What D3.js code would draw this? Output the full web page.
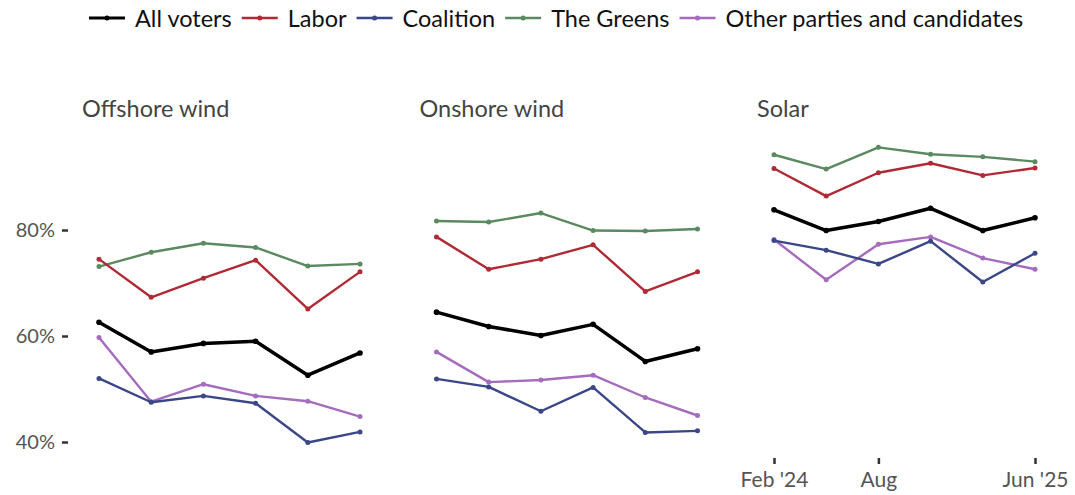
<!DOCTYPE html>
<html>
<head>
<meta charset="utf-8">
<script src="https://cdnjs.cloudflare.com/ajax/libs/d3/7.8.5/d3.min.js"></script>
<style>
  body { margin: 0; background: #fff; }
  svg { font-family: Lato, "Noto Sans", sans-serif; }
</style>
</head>
<body>
<svg id="chart" width="1075" height="495"></svg>
<script>
// survey waves
var waves = ["Feb '24", "May '24", "Aug '24", "Nov '24", "Mar '25", "Jun '25"];
var waveTicks = ["Feb '24", "Aug '24", "Jun '25"];
var tickText = { "Feb '24": "Feb '24", "Aug '24": "Aug", "Jun '25": "Jun '25" };

var panels = ["Offshore wind", "Onshore wind", "Solar"];
var groups = ["All voters", "Labor", "Coalition", "The Greens", "Other parties and candidates"];
var colors = ["#000000", "#b02a35", "#3b4688", "#5b8a60", "#a56cbd"];

// support (%) per group, per panel
var offshore = {
  "All voters": [62.6, 57.0, 58.6, 59.0, 52.6, 56.8],
  "Labor": [74.5, 67.3, 70.9, 74.3, 65.1, 72.1],
  "Coalition": [52.0, 47.5, 48.7, 47.3, 39.9, 41.9],
  "The Greens": [73.1, 75.8, 77.5, 76.7, 73.2, 73.6],
  "Other parties and candidates": [59.7, 47.6, 50.9, 48.7, 47.7, 44.8]
};
var onshore = {
  "All voters": [64.5, 61.8, 60.1, 62.2, 55.2, 57.6],
  "Labor": [78.7, 72.6, 74.5, 77.2, 68.4, 72.1],
  "Coalition": [51.9, 50.4, 45.8, 50.3, 41.8, 42.1],
  "The Greens": [81.7, 81.5, 83.2, 79.9, 79.8, 80.2],
  "Other parties and candidates": [57.0, 51.3, 51.7, 52.6, 48.4, 45.0]
};
var solar = {
  "All voters": [83.8, 79.9, 81.6, 84.1, 79.9, 82.3],
  "Labor": [91.6, 86.4, 90.8, 92.6, 90.3, 91.7],
  "Coalition": [78.0, 76.2, 73.6, 77.9, 70.2, 75.6],
  "The Greens": [94.2, 91.5, 95.6, 94.3, 93.8, 92.9],
  "Other parties and candidates": [78.2, 70.6, 77.3, 78.7, 74.7, 72.6]
};
var panelData = [offshore, onshore, solar];
var yTicks = [40, 60, 80];

var svg = d3.select("#chart");

var y = d3.scaleLinear().domain([40, 80]).range([442, 230]);
var x = d3.scalePoint().domain(waves).range([0, 261]);
var panelX = d3.scalePoint().domain(panels).range([99, 774]);

// y axis
var yAxis = svg.append("g").attr("transform", "translate(68,0)")
  .call(d3.axisLeft(y).tickValues(yTicks).tickSize(6).tickPadding(7).tickFormat(d => d + "%"));
yAxis.select(".domain").remove();
yAxis.selectAll(".tick line").attr("stroke", "#333").attr("stroke-width", 2.5);
yAxis.selectAll(".tick text").attr("fill", "#555").style("font-size", "20px").style("font-family", "Lato");

var line = d3.line().x((d, i) => x(waves[i])).y(d => y(d));

panels.forEach(function(p, pi) {
  var g = svg.append("g").attr("transform", "translate(" + panelX(p) + ",0)");

  g.append("text")
    .attr("x", -17).attr("y", 117)
    .attr("fill", "#444")
    .style("font-size", "23.5px")
    .text(p);

  // draw in reverse so All voters sits on top
  groups.slice().reverse().forEach(function(grp) {
    var gi = groups.indexOf(grp);
    var vals = panelData[pi][grp];
    g.append("path")
      .attr("d", line(vals))
      .attr("fill", "none")
      .attr("stroke", colors[gi])
      .attr("stroke-width", gi == 0 ? 3.5 : 2.4)
      .attr("stroke-linejoin", "round");
    g.selectAll(null).data(vals).enter().append("circle")
      .attr("cx", (d, i) => x(waves[i]))
      .attr("cy", d => y(d))
      .attr("r", gi == 0 ? 2.8 : 2.5)
      .attr("fill", colors[gi]);
  });

  if (pi == 2) {
    var xAxis = g.append("g").attr("transform", "translate(0,458)")
      .call(d3.axisBottom(x).tickValues(waveTicks).tickSize(6).tickPadding(8).tickFormat(d => tickText[d]));
    xAxis.select(".domain").remove();
    xAxis.selectAll(".tick line").attr("stroke", "#333").attr("stroke-width", 2.5);
    xAxis.selectAll(".tick text").attr("fill", "#555").style("font-size", "21px").style("font-family", "Lato");
  }
});

// legend
var lx = 89;
var legend = svg.append("g");
groups.forEach(function(grp, gi) {
  legend.append("line")
    .attr("x1", lx).attr("x2", lx + 36).attr("y1", 18).attr("y2", 18)
    .attr("stroke", colors[gi]).attr("stroke-width", gi == 0 ? 3 : 2.4);
  legend.append("circle").attr("cx", lx + 18).attr("cy", 18).attr("r", 2.5).attr("fill", colors[gi]);
  var t = legend.append("text")
    .attr("x", lx + 46).attr("y", 26.5)
    .attr("fill", "#111")
    .style("font-size", "23.5px")
    .text(grp);
  lx = lx + 46 + t.node().getComputedTextLength() + 10;
});
</script>
</body>
</html>
